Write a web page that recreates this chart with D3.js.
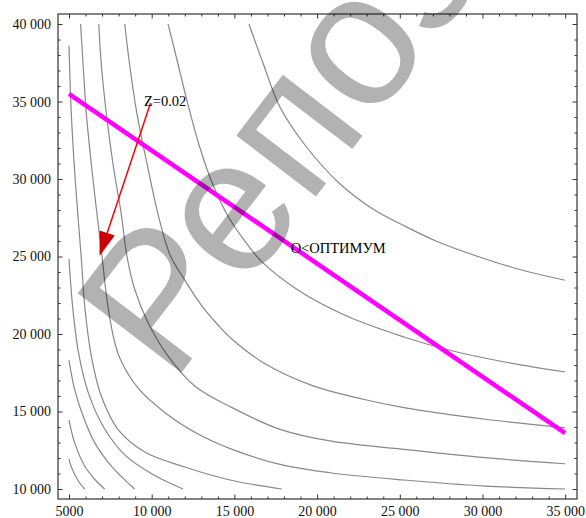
<!DOCTYPE html>
<html>
<head>
<meta charset="utf-8">
<script src="https://cdn.jsdelivr.net/npm/d3@7"></script>
<style>
  body { margin: 0; background: #fff; }
  svg { display: block; }
</style>
</head>
<body>
<script>
// contour chart: Z levels over (x, y), with the line and two notes
const width = 586;
const height = 518;

const xTicks = [5000, 10000, 15000, 20000, 25000, 30000, 35000];
const yTicks = [10000, 15000, 20000, 25000, 30000, 35000, 40000];

// contour lines, [x, y]
const contourA = [[5000, 11950], [5120, 11480], [5340, 10970], [5600, 10450], [5950, 10000]];
const contourB = [[5000, 14450], [5340, 12990], [5950, 11480], [6550, 10630], [7160, 10000]];
const contourC = [[5000, 18300], [5340, 16430], [5850, 14710], [6550, 12990], [7560, 11480], [8970, 10000]];
const contourD = [[5000, 24840], [5240, 21550], [5600, 18650], [6210, 16070], [7120, 13940], [8390, 12190], [10020, 10970], [11890, 10000]];
const contourE = [[5000, 38600], [5140, 34190], [5380, 29890], [5740, 24950], [5950, 21810], [6350, 18580], [6950, 16000], [7960, 13850], [9580, 12390], [12000, 11420], [14860, 10550], [17860, 10000]];
const contourF = [[5700, 40000], [5850, 37420], [6050, 34200], [6350, 30970], [6690, 27740], [7000, 24970], [7300, 22190], [7660, 19940], [8070, 18450], [9170, 16520], [10790, 14940], [12800, 13550], [14860, 12560], [17760, 11590], [20780, 11050], [25250, 10580], [30150, 10190], [35000, 10000]];
const contourG = [[6800, 40000], [6950, 37420], [7260, 34200], [7660, 30970], [8160, 27740], [8510, 24970], [8970, 22890], [9780, 20730], [10990, 18580], [12600, 16650], [14860, 15250], [17760, 13850], [20780, 13100], [25250, 12560], [30170, 12020], [35000, 11630]];
const contourH = [[8370, 40000], [8660, 37420], [9110, 34200], [9720, 30970], [10380, 27740], [11110, 25100], [12000, 23480], [13000, 21870], [14010, 20580], [14860, 19660], [16750, 18150], [19770, 16650], [22790, 15790], [25250, 15250], [30170, 14500], [35000, 13950]];
const contourI = [[10990, 40000], [11530, 37680], [12200, 34780], [12920, 32000], [13710, 29610], [14610, 27610], [15580, 26070], [16670, 24650], [18770, 22890], [21790, 21160], [25250, 19810], [27960, 18970], [31040, 18260], [35000, 17550]];
const contourJ = [[15880, 40000], [16750, 37420], [17760, 34630], [19370, 32050], [21390, 29680], [23400, 28050], [25250, 26990], [27150, 26020], [29730, 25000], [32190, 24180], [35000, 23470]];
const contours = [contourA, contourB, contourC, contourD, contourE, contourF, contourG, contourH, contourI, contourJ];

// straight line (magenta) and arrow to the Z=0.02 level
const lineX = [5000, 35000];
const lineY = [35500, 13600];
const arrowFrom = [9930, 34900];
const arrowTo = [6850, 25050];

const zLabel = 'Z=0.02';
const zLabelAt = [9530, 34700];
const optLabel = 'О<ОПТИМУМ';
const optLabelAt = [18400, 25230];
const watermark = 'Репозиторий';

const x = d3.scaleLinear().domain([4335, 35714]).range([58, 577]);
const y = d3.scaleLinear().domain([9355, 40647]).range([499, 14]);

const svg = d3.select('body')
    .append('svg')
    .attr('width', width)
    .attr('height', height)
    .style('font-family', '"Liberation Serif", "Times New Roman", serif');

svg.append('rect')
    .attr('width', width)
    .attr('height', height)
    .attr('fill', '#fff');

const plot = svg.append('g');

const line = d3.line()
    .x(d => x(d[0]))
    .y(d => y(d[1]))
    .curve(d3.curveCatmullRom.alpha(0.5));

plot.selectAll('path.contour')
    .data(contours)
    .enter().append('path')
    .attr('class', 'contour')
    .attr('fill', 'none')
    .attr('stroke', '#888')
    .attr('stroke-width', 1.2);

plot.selectAll('path.contour').attr('d', line);

plot.append('line')
    .attr('x1', x(lineX[0])).attr('y1', y(lineY[0]))
    .attr('x2', x(lineX[1])).attr('y2', y(lineY[1]))
    .attr('stroke', '#ff00ff')
    .attr('stroke-width', 4.5);

// arrow: thin red shaft, darker head
const ax0 = x(arrowFrom[0]), ay0 = y(arrowFrom[1]);
const ax1 = x(arrowTo[0]), ay1 = y(arrowTo[1]);
const ang = Math.atan2(ay1 - ay0, ax1 - ax0);
const headLen = 24, headW = 8;
const bx = ax1 - headLen * Math.cos(ang), by = ay1 - headLen * Math.sin(ang);

plot.append('line')
    .attr('x1', ax0).attr('y1', ay0)
    .attr('x2', bx).attr('y2', by)
    .attr('stroke', '#ff0000')
    .attr('stroke-width', 1.5);

plot.append('path')
    .attr('d', `M${ax1},${ay1}L${bx - headW * Math.sin(ang)},${by + headW * Math.cos(ang)}L${bx + headW * Math.sin(ang)},${by - headW * Math.cos(ang)}Z`)
    .attr('fill', '#cc0000');

plot.append('text')
    .attr('x', x(zLabelAt[0]))
    .attr('y', y(zLabelAt[1]))
    .attr('font-size', 14.5)
    .text(zLabel);

plot.append('text')
    .attr('x', x(optLabelAt[0]))
    .attr('y', y(optLabelAt[1]))
    .attr('font-size', 14.5)
    .text(optLabel);

// frame with ticks on all four sides, pointing in
const fmt = v => v >= 10000 ? d3.format(',')(v).replace(',', ' ') : String(v);
const minorX = d3.range(5000, 35001, 1000).filter(v => v % 5000 !== 0);
const minorY = d3.range(10000, 40001, 1000).filter(v => v % 5000 !== 0);

function frameAxis(axis, major, minor, labels) {
    return g => {
        g.call(axis.tickValues(major).tickSize(-4.5).tickPadding(labels ? 7 : 0).tickFormat(labels ? fmt : ''));
        g.select('.domain').remove();
        g.append('g').call(axis.tickValues(minor).tickSize(-2.5).tickFormat(''))
            .select('.domain').remove();
        g.selectAll('line').attr('stroke', '#333');
        g.selectAll('text')
            .attr('fill', '#111')
            .style('font-family', '"Liberation Serif", "Times New Roman", serif')
            .style('font-size', '14px');
    };
}

svg.append('g').attr('transform', `translate(0,499)`)
    .call(frameAxis(d3.axisBottom(x), xTicks, minorX, true));
svg.append('g').attr('transform', `translate(0,14)`)
    .call(frameAxis(d3.axisTop(x), xTicks, minorX, false));
svg.append('g').attr('transform', `translate(58,0)`)
    .call(frameAxis(d3.axisLeft(y), yTicks, minorY, true));
svg.append('g').attr('transform', `translate(577,0)`)
    .call(frameAxis(d3.axisRight(y), yTicks, minorY, false));

svg.append('rect')
    .attr('x', 58).attr('y', 14)
    .attr('width', 519).attr('height', 485)
    .attr('fill', 'none')
    .attr('stroke', '#333')
    .attr('stroke-width', 1.2);

// grey stamp across the picture
svg.append('text')
    .attr('transform', 'translate(172,385) rotate(-52.6)')
    .attr('font-family', '"Liberation Sans", Arial, sans-serif')
    .attr('font-size', 190)
    .attr('fill', '#000')
    .attr('fill-opacity', 0.3)
    .text(watermark);
</script>
</body>
</html>
